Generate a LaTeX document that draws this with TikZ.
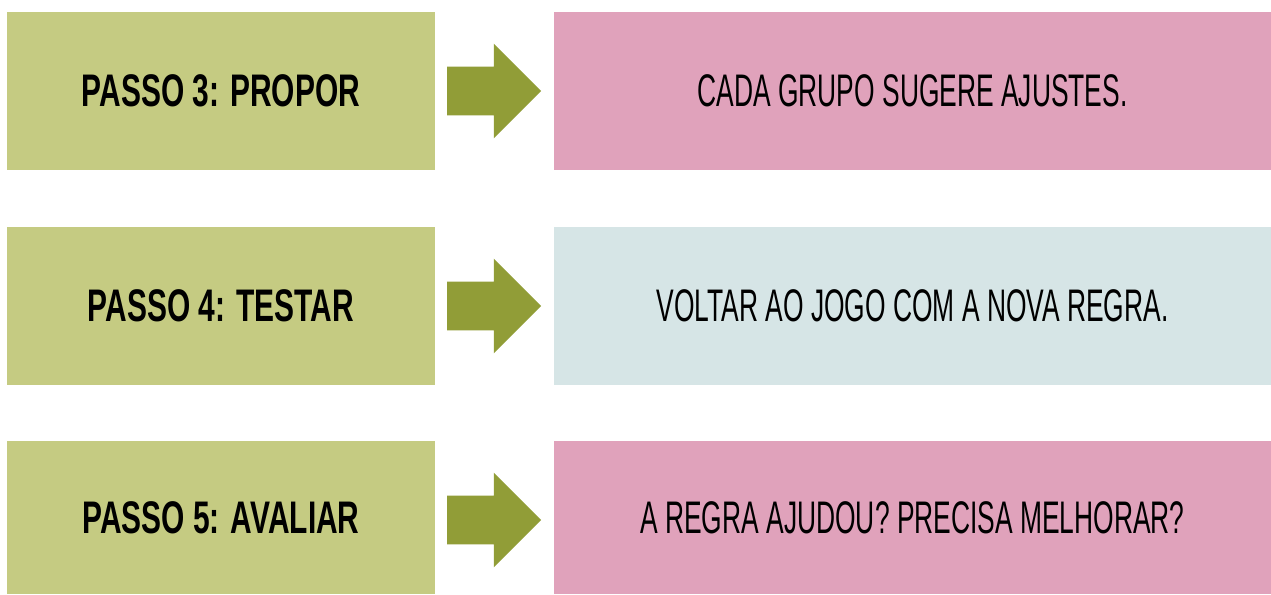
\documentclass[tikz,border=0pt]{standalone}
\usepackage{fontspec}
\setmainfont{Liberation Sans}[FakeStretch=0.578,BoldFeatures={FakeStretch=0.655}]
\usepackage{xcolor}
\definecolor{ps-green}{RGB}{197,203,130}
\definecolor{ps-olive}{RGB}{145,157,55}
\definecolor{ps-pink}{RGB}{224,162,187}
\definecolor{ps-blue}{RGB}{214,229,230}
\usepackage{tikz}
\usetikzlibrary{shapes,arrows,positioning}

\begin{document}
\begin{tikzpicture}[
    stepbox/.style={fill=ps-green,minimum width=8.56cm,minimum height=3.16cm,inner sep=0pt,font=\fontsize{26}{30}\selectfont\bfseries},
    infobox/.style={minimum width=14.34cm,minimum height=3.16cm,inner sep=0pt,font=\fontsize{26}{30}\selectfont},
    goarrow/.style={single arrow,fill=ps-olive,minimum height=1.88cm,inner xsep=0pt,inner ysep=0.48cm,single arrow head extend=0.46cm}]
    \useasboundingbox (0,0) rectangle (25.42,-11.88);
    \node[stepbox] (p3) at (4.42,-1.82) {PASSO 3: PROPOR};
    \node[stepbox] (p4) at (4.42,-6.12) {PASSO 4: TESTAR};
    \node[stepbox,minimum height=3.06cm] (p5) at (4.42,-10.35) {PASSO 5: AVALIAR};
    \node[infobox,fill=ps-pink] (r3) at (18.25,-1.82) {CADA GRUPO SUGERE AJUSTES.};
    \node[infobox,fill=ps-blue] (r4) at (18.25,-6.12) {VOLTAR AO JOGO COM A NOVA REGRA.};
    \node[infobox,fill=ps-pink,minimum height=3.06cm] (r5) at (18.25,-10.35) {A REGRA AJUDOU? PRECISA MELHORAR?};
    \node[goarrow] (a3) at (9.64,-1.82) {};
    \node[goarrow] (a4) at (9.64,-6.12) {};
    \node[goarrow] (a5) at (9.64,-10.40) {};
\end{tikzpicture}
\end{document}
